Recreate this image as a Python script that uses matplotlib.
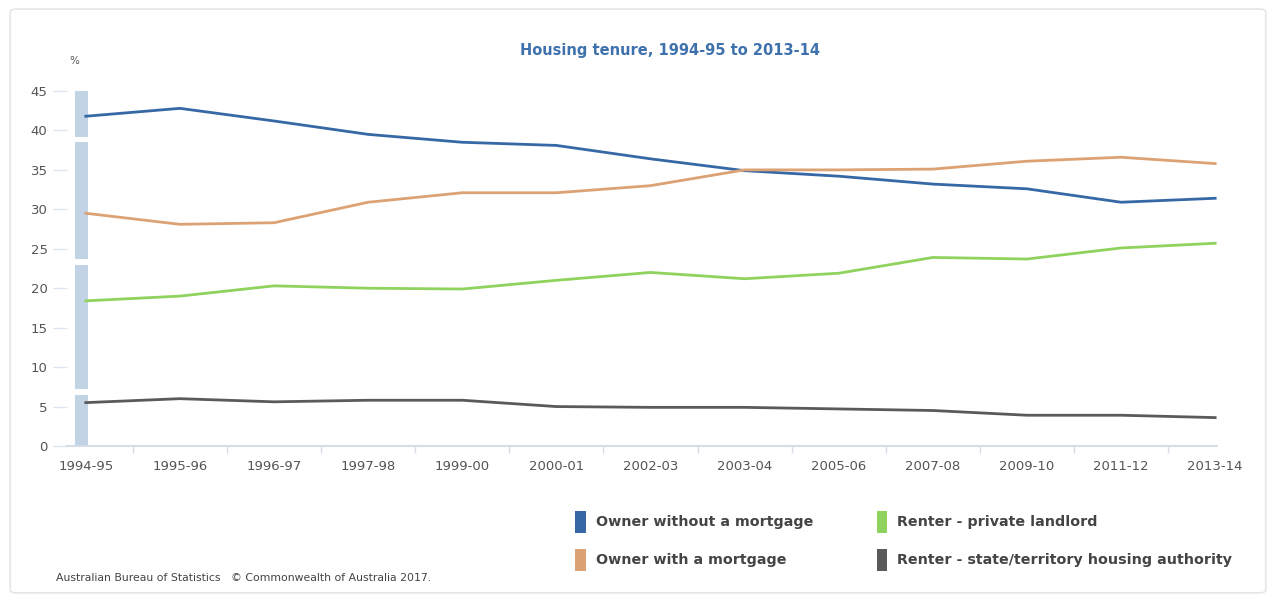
import matplotlib.pyplot as plt
from matplotlib.patches import Rectangle, FancyBboxPatch

# Data
years = ["1994-95", "1995-96", "1996-97", "1997-98", "1999-00", "2000-01", "2002-03",
         "2003-04", "2005-06", "2007-08", "2009-10", "2011-12", "2013-14"]
owner_outright = [41.8, 42.8, 41.2, 39.5, 38.5, 38.1, 36.4, 34.9, 34.2, 33.2, 32.6, 30.9, 31.4]
owner_mortgage = [29.5, 28.1, 28.3, 30.9, 32.1, 32.1, 33.0, 35.0, 35.0, 35.1, 36.1, 36.6, 35.8]
renter_private = [18.4, 19.0, 20.3, 20.0, 19.9, 21.0, 22.0, 21.2, 21.9, 23.9, 23.7, 25.1, 25.7]
renter_state = [5.5, 6.0, 5.6, 5.8, 5.8, 5.0, 4.9, 4.9, 4.7, 4.5, 3.9, 3.9, 3.6]

series = [
    ("Owner without a mortgage", owner_outright, "#3668a6"),
    ("Owner with a mortgage", owner_mortgage, "#dda274"),
    ("Renter - private landlord", renter_private, "#8fd35e"),
    ("Renter - state/territory housing authority", renter_state, "#5a5a5a"),
]

plt.rcParams['font.family'] = ['DejaVu Sans']
fig = plt.figure(figsize=(12.76, 6.05), dpi=100)

# faint outer frame like the screenshot
fig.patches.append(FancyBboxPatch((0.008, 0.02), 0.984, 0.965, boxstyle="round,pad=0,rounding_size=0.005",
                                  transform=fig.transFigure, fill=False, ec="#e6e6e6", lw=1.2))

ax = fig.add_axes([0.0525, 0.2628, 0.9013, 0.5868])
x = list(range(len(years)))

# light blue band along the y axis, broken into segments
for lo, hi in [(0, 6.5), (7.2, 23), (23.7, 38.5), (39.2, 45)]:
    ax.fill_between([-0.12, 0.02], lo, hi, color="#c3d3e6", lw=0, zorder=1)

for name, vals, col in series:
    ax.plot(x, vals, color=col, lw=2, zorder=3, solid_joinstyle="round")

ax.set_xlim(-0.2, 12.02)
ax.set_ylim(0, 45)
ax.set_yticks(range(0, 46, 5))
ax.set_xticks(x)
ax.set_xticklabels(years)
ax.set_xticks([i + 0.5 for i in range(len(years) - 1)], minor=True)

for s in ["top", "right", "left"]:
    ax.spines[s].set_visible(False)
ax.spines["bottom"].set_color("#d5dde8")
ax.spines["bottom"].set_linewidth(1.5)

ax.tick_params(axis="x", which="major", length=0, pad=10, labelsize=9.5, labelcolor="#555555")
ax.tick_params(axis="x", which="minor", length=5, color="#d5dde8", width=1)
ax.tick_params(axis="y", length=10, color="#dfe5ee", width=1, pad=4, labelsize=9.5, labelcolor="#555555")

fig.text(0.525, 0.917, "Housing tenure, 1994-95 to 2013-14", ha="center", va="center",
         fontsize=10.5, fontweight="bold", color="#3f72ad")
fig.text(0.054, 0.9, "%", ha="left", va="center", fontsize=7.5, color="#555555")

# legend drawn by hand to keep the two-column layout
leg_pos = [(0.451, 0.137), (0.451, 0.075), (0.687, 0.137), (0.687, 0.075)]
for (name, vals, col), (lx, ly) in zip(series, leg_pos):
    fig.patches.append(Rectangle((lx, ly - 0.018), 0.0085, 0.036, transform=fig.transFigure,
                                 color=col, lw=0))
    fig.text(lx + 0.016, ly, name, ha="left", va="center", fontsize=10.3,
             fontweight="bold", color="#444444")

fig.text(0.044, 0.045, "Australian Bureau of Statistics   \u00a9 Commonwealth of Australia 2017.",
         ha="left", va="center", fontsize=7.8, color="#444444")

fig.savefig("out.png", dpi=100)
